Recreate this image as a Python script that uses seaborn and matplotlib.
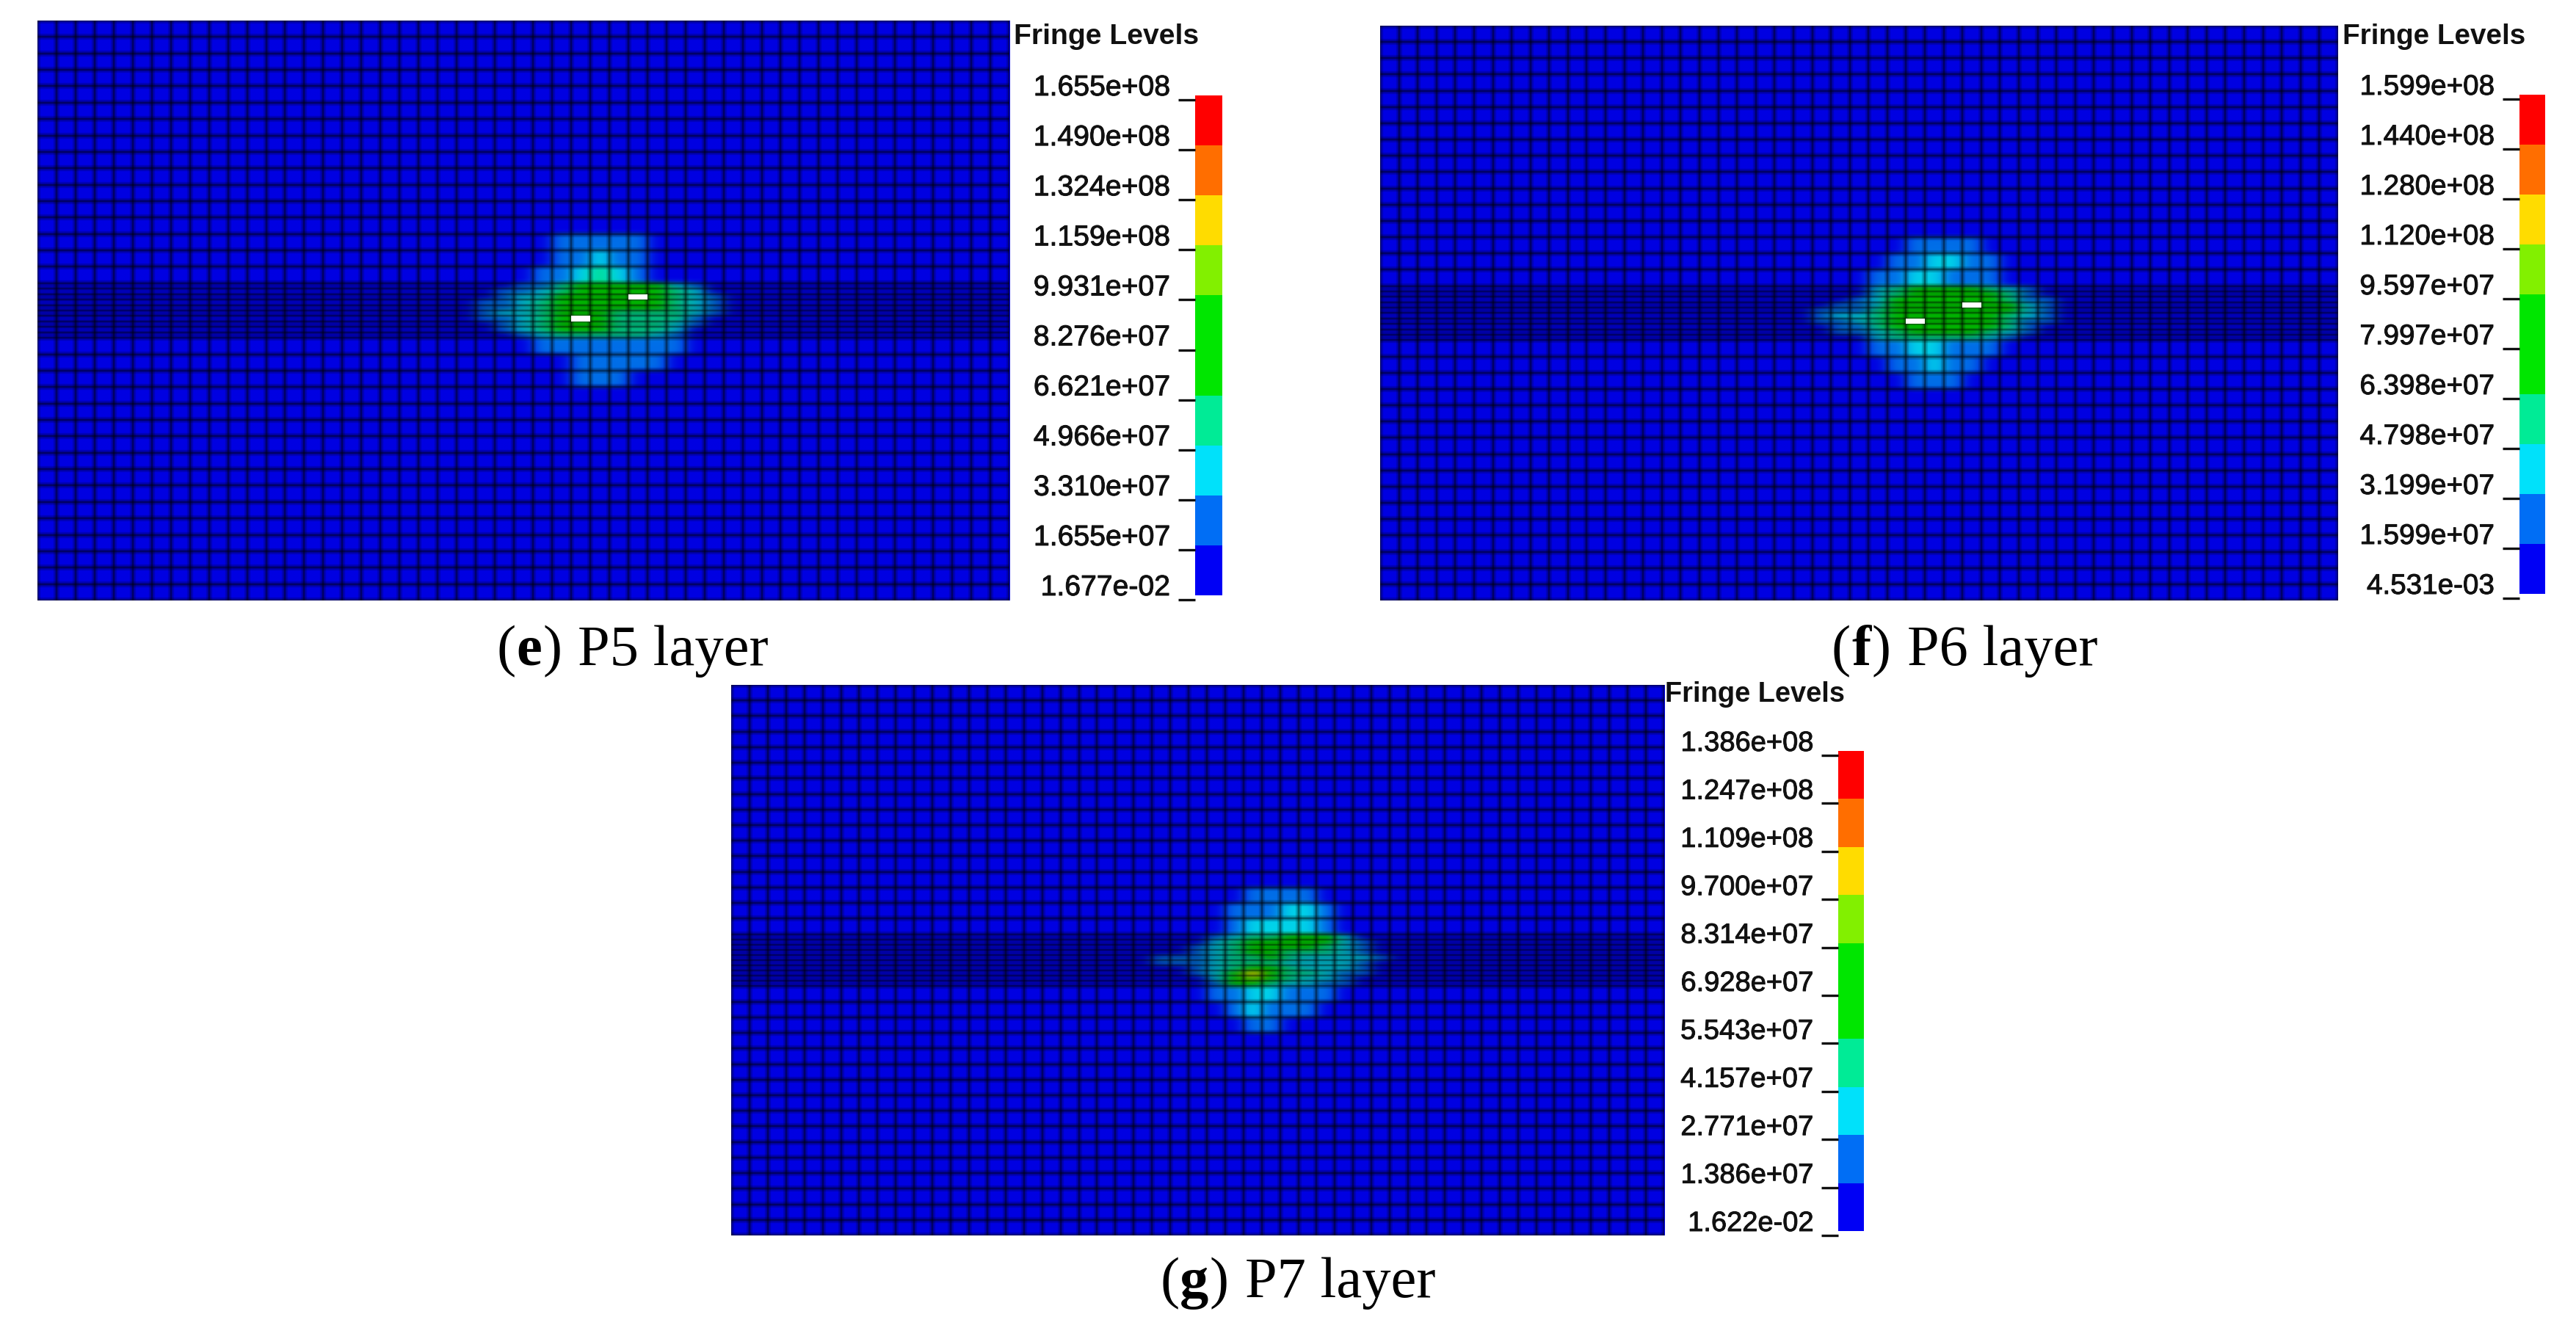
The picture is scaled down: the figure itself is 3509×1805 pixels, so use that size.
import numpy as np
import seaborn as sns
import matplotlib
matplotlib.use("Agg")
import matplotlib.pyplot as plt
import matplotlib.patheffects as pe
from matplotlib.colors import BoundaryNorm, ListedColormap
from matplotlib.transforms import ScaledTranslation

sns.set_theme(style="white")
plt.rcParams['font.family'] = ['Liberation Sans', 'DejaVu Sans']

W, H = 3509, 1805
nan = float('nan')

fringe_colors = ['#0000f5', '#006ef5', '#00e1fa', '#00eb96', '#00e600',
                 '#00e600', '#82f000', '#ffdc00', '#ff6e00', '#ff0000']
panel_colors = ['#0000e2', '#006ee8', '#00d2ea', '#00e096', '#00dc00',
                '#00dc00', '#82e600', '#ffdc00', '#ff6e00', '#ff0000']

p5_labels = ['1.655e+08', '1.490e+08', '1.324e+08', '1.159e+08', '9.931e+07', '8.276e+07',
             '6.621e+07', '4.966e+07', '3.310e+07', '1.655e+07', '1.677e-02']
p6_labels = ['1.599e+08', '1.440e+08', '1.280e+08', '1.120e+08', '9.597e+07', '7.997e+07',
             '6.398e+07', '4.798e+07', '3.199e+07', '1.599e+07', '4.531e-03']
p7_labels = ['1.386e+08', '1.247e+08', '1.109e+08', '9.700e+07', '8.314e+07', '6.928e+07',
             '5.543e+07', '4.157e+07', '2.771e+07', '1.386e+07', '1.622e-02']

# stress per element in 1e7, columns 22-36 of the hot zone, everything else is background
p5_background = 0.8
p5_above = [
    [.8, .8, .8, .8, .8, 1.8, 2.2, 2.5, 2.2, 2.0, 1.5, .8, .8, .8, .8],
    [.8, .8, .8, .8, 1.6, 2.2, 3.0, 3.5, 3.0, 2.4, 1.2, .8, .8, .8, .8],
    [.8, .8, .8, .8, 1.8, 3.0, 4.5, 5.5, 4.5, 1.8, .9, 1.5, 1.2, .8, .8],
]
p5_band = [
    [.8, .8, 1.2, 2.0, 3.0, 5.5, 7.5, 8.5, 8.0, 7.0, 7.0, 4.5, 3.0, 1.0, .8],
    [.8, 1.0, 1.8, 2.8, 3.8, 6.0, 8.0, 9.0, 8.0, 7.5, 7.2, 5.5, 3.5, 1.2, .8],
    [.8, 1.5, 2.4, 3.5, 4.4, 6.8, 8.0, 8.5, 8.0, nan, 7.5, 6.0, 4.0, 2.0, 1.2],
    [.8, 1.8, 3.0, 4.0, 5.0, 7.0, 8.0, 8.0, 7.8, 7.5, 8.0, 6.5, 4.5, 2.5, 1.4],
    [1.0, 2.0, 3.2, 4.5, 5.5, 7.0, 7.5, 7.6, 7.5, 7.0, 7.0, 6.0, 4.5, 2.5, 1.4],
    [1.6, 2.4, 3.4, 4.5, 5.8, 7.5, 7.5, 7.0, 6.5, 6.5, 6.5, 5.0, 3.5, 1.8, 1.0],
    [1.6, 2.2, 3.2, 4.5, 6.0, 8.0, nan, 7.0, 6.5, 6.5, 6.0, 5.0, 3.0, 1.5, .9],
    [1.0, 1.6, 2.8, 4.0, 6.2, 8.5, 8.0, 7.0, 6.5, 6.0, 5.5, 4.0, 2.4, 1.2, .9],
    [.8, 1.2, 2.4, 4.0, 6.0, 8.8, 8.5, 7.0, 6.0, 5.8, 5.0, 3.5, 1.5, .9, .8],
    [.8, .8, 1.5, 3.0, 4.5, 6.0, 6.0, 5.5, 5.0, 5.0, 4.0, 2.5, 1.2, .8, .8],
]
p5_below = [
    [.8, .8, .8, 1.2, 2.0, 2.2, 2.4, 2.4, 2.4, 2.4, 2.8, 2.0, 1.0, .8, .8],
    [.8, .8, .8, .8, .8, 1.6, 2.3, 2.4, 2.4, 2.2, 1.8, .8, .8, .8, .8],
    [.8, .8, .8, .8, .8, 1.2, 1.8, 1.9, 1.9, 1.6, 1.2, .8, .8, .8, .8],
]

p6_background = 0.8
p6_above = [
    [.8, .8, .8, .8, .8, 1.2, 2.0, 2.6, 2.4, 2.0, 1.2, .8, .8, .8, .8],
    [.8, .8, .8, .8, 1.4, 1.8, 2.6, 3.3, 3.3, 2.4, 1.7, .8, .8, .8, .8],
    [.8, .8, .8, .8, 1.8, 2.6, 3.4, 3.6, 2.6, 2.8, 2.6, 1.2, .8, .8, .8],
]
p6_band = [
    [.8, .8, .8, 1.2, 4.0, 5.5, 6.5, 6.5, 6.5, 6.5, 6.0, 4.0, 2.0, .8, .8],
    [.8, .8, 1.0, 1.5, 4.5, 6.0, 7.5, 7.5, 7.0, 7.0, 6.5, 5.0, 2.5, 1.2, .8],
    [.8, .8, 1.4, 1.8, 4.5, 6.5, 8.0, 8.0, 7.5, 7.0, 7.0, 5.5, 3.0, 1.8, .9],
    [.8, 1.5, 2.2, 2.0, 4.5, 6.5, 8.0, 8.0, 7.5, nan, 8.0, 7.0, 3.5, 2.4, 1.0],
    [.8, 2.0, 3.0, 3.0, 5.0, 6.5, 7.5, 7.5, 7.5, 7.5, 8.0, 7.5, 4.2, 3.0, 1.5],
    [.8, 2.0, 3.2, 4.0, 5.5, 6.5, 7.0, 7.0, 7.0, 7.5, 7.0, 5.5, 4.0, 2.5, 1.2],
    [.8, 1.8, 2.8, 3.5, 5.5, 6.5, nan, 7.0, 7.5, 7.0, 6.5, 5.0, 3.0, 1.6, .8],
    [.8, 1.2, 2.2, 3.0, 5.0, 6.5, 7.5, 7.5, 7.5, 7.5, 6.5, 5.0, 2.5, 1.2, .8],
    [.8, .8, 1.6, 2.2, 4.5, 6.0, 7.0, 7.5, 7.5, 7.0, 6.0, 4.0, 2.0, .8, .8],
    [.8, .8, .9, 1.2, 3.5, 5.0, 5.5, 5.5, 5.5, 5.0, 4.5, 3.0, 1.5, .8, .8],
]
p6_below = [
    [.8, .8, .8, .8, 1.6, 2.6, 3.6, 3.3, 2.0, 2.0, 1.9, 1.4, .8, .8, .8],
    [.8, .8, .8, .8, .8, 1.8, 2.6, 3.2, 3.0, 2.0, 1.4, .8, .8, .8, .8],
    [.8, .8, .8, .8, .8, 1.2, 1.9, 1.9, 1.6, 1.0, .8, .8, .8, .8, .8],
]

p7_background = 0.6
p7_above = [
    [.6, .6, .6, .6, .6, 1.0, 1.6, 2.0, 2.5, 1.8, 1.0, .6, .6, .6, .6],
    [.6, .6, .6, .6, 1.0, 1.9, 2.5, 2.7, 3.0, 3.0, 1.4, .6, .6, .6, .6],
    [.6, .6, .6, .6, 1.2, 2.4, 3.1, 3.1, 3.3, 3.4, 1.8, .8, .6, .6, .6],
]
p7_band = [
    [.6, .6, .6, 1.0, 2.0, 4.0, 5.0, 5.0, 6.0, 6.5, 6.0, 3.0, 1.2, .6, .6],
    [.6, .6, .6, 1.0, 3.0, 5.0, 5.6, 6.0, 7.0, 7.5, 6.5, 3.5, 1.5, .6, .6],
    [.6, .6, .8, 1.4, 3.0, 5.0, 6.0, 6.0, 6.5, 6.5, 5.5, 3.5, 2.0, .8, .6],
    [.6, .6, 1.2, 1.8, 3.5, 5.0, 6.0, 6.5, 5.5, 5.0, 4.5, 3.5, 2.6, 1.2, .6],
    [.6, 1.6, 2.0, 2.6, 3.6, 4.5, 5.0, 6.0, 4.5, 4.0, 3.6, 3.4, 3.0, 1.6, .6],
    [.6, 1.4, 1.6, 2.4, 3.2, 4.5, 4.5, 4.5, 4.0, 4.0, 3.6, 3.0, 2.4, 1.2, .6],
    [.6, .6, 1.0, 1.8, 3.0, 5.5, 7.0, 6.0, 4.5, 4.0, 3.4, 2.8, 1.8, .6, .6],
    [.6, .6, .8, 1.6, 3.5, 7.5, 10.0, 7.5, 4.8, 4.2, 3.4, 2.6, 1.4, .6, .6],
    [.6, .6, .6, 1.2, 3.0, 7.0, 9.0, 6.5, 4.5, 4.0, 3.2, 2.2, 1.2, .6, .6],
    [.6, .6, .6, .8, 2.4, 6.0, 6.5, 5.5, 3.8, 3.0, 2.4, 1.6, .8, .6, .6],
]
p7_below = [
    [.6, .6, .6, .6, 1.4, 2.4, 3.7, 3.1, 2.2, 2.0, 1.6, 1.2, .6, .6, .6],
    [.6, .6, .6, .6, .6, 1.8, 3.0, 2.5, 2.1, 1.6, 1.0, .6, .6, .6, .6],
    [.6, .6, .6, .6, .6, 1.0, 1.5, 1.8, 1.2, 1.0, .6, .6, .6, .6, .6],
]

N_COLS = 51
OUTER_ABOVE = 16
N_BAND = 10
OUTER_BELOW = 16
OUTER_SPLIT = 3
FIRST_COL = 22

cmap = ListedColormap(fringe_colors)
panel_cmap = ListedColormap(panel_colors)
fig = plt.figure(figsize=(W / 100, H / 100), dpi=100)


def px_axes(left, top, right, bottom):
    return fig.add_axes([left / W, 1 - bottom / H, (right - left) / W, (bottom - top) / H])


def build_grid(background, above, band, below):
    n_rows = (OUTER_ABOVE + OUTER_BELOW) * OUTER_SPLIT + N_BAND
    grid = np.full((n_rows, N_COLS), background, dtype=float)
    band_top = OUTER_ABOVE * OUTER_SPLIT
    rows_above = np.repeat(np.array(above), OUTER_SPLIT, axis=0)
    rows_below = np.repeat(np.array(below), OUTER_SPLIT, axis=0)
    width = rows_above.shape[1]
    grid[band_top - len(rows_above):band_top, FIRST_COL:FIRST_COL + width] = rows_above
    grid[band_top:band_top + N_BAND, FIRST_COL:FIRST_COL + width] = np.array(band)
    grid[band_top + N_BAND:band_top + N_BAND + len(rows_below), FIRST_COL:FIRST_COL + width] = rows_below
    return grid


def draw_panel(rect, background, above, band, below, labels):
    levels = sorted(float(s) / 1e7 for s in labels)
    norm = BoundaryNorm(levels, cmap.N)
    grid = build_grid(background, above, band, below)
    n_rows = grid.shape[0]
    ax = px_axes(*rect)

    sns.heatmap(grid, cmap=panel_cmap, norm=norm, cbar=False, xticklabels=False, yticklabels=False, ax=ax)
    ax.collections[0].set_zorder(0)
    # same values again, softened the way the exported picture is
    ax.imshow(np.nan_to_num(grid, nan=7.5), cmap=panel_cmap, norm=norm, interpolation='gaussian',
              interpolation_stage='rgba', extent=(0, N_COLS, n_rows, 0), aspect='auto', zorder=1)
    deleted = np.isnan(grid)
    sns.heatmap(deleted.astype(float), mask=~deleted, cmap=ListedColormap(['white']), vmin=0, vmax=1,
                cbar=False, xticklabels=False, yticklabels=False, ax=ax)
    ax.collections[-1].set_zorder(4)
    ax.set_xlim(0, N_COLS)
    ax.set_ylim(n_rows, 0)

    band_top = OUTER_ABOVE * OUTER_SPLIT
    row_edges = list(range(0, band_top + 1, OUTER_SPLIT))
    row_edges += list(range(band_top + 1, band_top + N_BAND + 1))
    row_edges += list(range(band_top + N_BAND + OUTER_SPLIT, n_rows + 1, OUTER_SPLIT))
    col_edges = list(range(N_COLS + 1))
    for lw, alpha in [(6.0, 0.16), (3.2, 0.22), (1.4, 0.3)]:
        ax.vlines(col_edges, 0, n_rows, colors='black', linewidth=lw, alpha=alpha, zorder=3)
        ax.hlines(row_edges, 0, N_COLS, colors='black', linewidth=lw, alpha=alpha, zorder=3)
    for spine in ax.spines.values():
        spine.set_visible(False)
    return levels, norm


def draw_legend(bar_rect, tick_shift, levels, norm, labels, fontsize, title_xy):
    ax = px_axes(*bar_rect)
    mids = [[(levels[i] + levels[i + 1]) / 2] for i in range(len(levels) - 1)][::-1]
    sns.heatmap(np.array(mids), cmap=cmap, norm=norm, cbar=False, xticklabels=False, yticklabels=False, ax=ax)

    # the tick marks sit a little below the colour steps
    left, top, right, bottom = bar_rect
    tick_ax = px_axes(left, top + tick_shift, right, bottom + tick_shift)
    tick_ax.patch.set_alpha(0)
    tick_ax.set_ylim(len(mids), 0)
    tick_ax.set_xticks([])
    tick_ax.set_yticks(range(len(labels)))
    tick_ax.set_yticklabels(labels, fontsize=fontsize, color='#111111', va='bottom')
    tick_ax.tick_params(axis='y', left=True, length=16.5, width=2.4, color='#111111', pad=8)
    nudge = ScaledTranslation(0, -2 / 100, fig.dpi_scale_trans)
    heavier = [pe.withStroke(linewidth=0.7, foreground='#111111')]
    for lab in tick_ax.get_yticklabels():
        lab.set_transform(lab.get_transform() + nudge)
        lab.set_path_effects(heavier)
    for spine in tick_ax.spines.values():
        spine.set_visible(False)

    fig.text(title_xy[0] / W, 1 - title_xy[1] / H, 'Fringe Levels', fontsize=fontsize, fontweight='bold',
             color='#111111', va='baseline')


def draw_caption(x, y, letter, rest):
    renderer = fig.canvas.get_renderer()
    for text, weight, gap in [('(', 'normal', 0), (letter, 'bold', 0), (')', 'normal', 0), (rest, 'normal', 21)]:
        x += gap
        t = fig.text(x / W, 1 - y / H, text, fontsize=56.5, fontweight=weight, family='Liberation Serif',
                     color='black', va='baseline')
        x = t.get_window_extent(renderer).x1 + 1


levels, norm = draw_panel((51, 28, 1375, 818), p5_background, p5_above, p5_band, p5_below, p5_labels)
draw_legend((1628, 130, 1665, 811), 6, levels, norm, p5_labels, 28.2, (1381, 60))
draw_caption(676, 906, 'e', 'P5 layer')

levels, norm = draw_panel((1880, 35, 3185, 818), p6_background, p6_above, p6_band, p6_below, p6_labels)
draw_legend((3432, 129, 3467, 809), 6, levels, norm, p6_labels, 27.8, (3191, 60))
draw_caption(2495, 906, 'f', 'P6 layer')

levels, norm = draw_panel((996, 933, 2267, 1683), p7_background, p7_above, p7_band, p7_below, p7_labels)
draw_legend((2504, 1023, 2539, 1677), 6, levels, norm, p7_labels, 27.4, (2268, 956))
draw_caption(1580, 1767, 'g', 'P7 layer')

fig.savefig('out.png', dpi=100)
